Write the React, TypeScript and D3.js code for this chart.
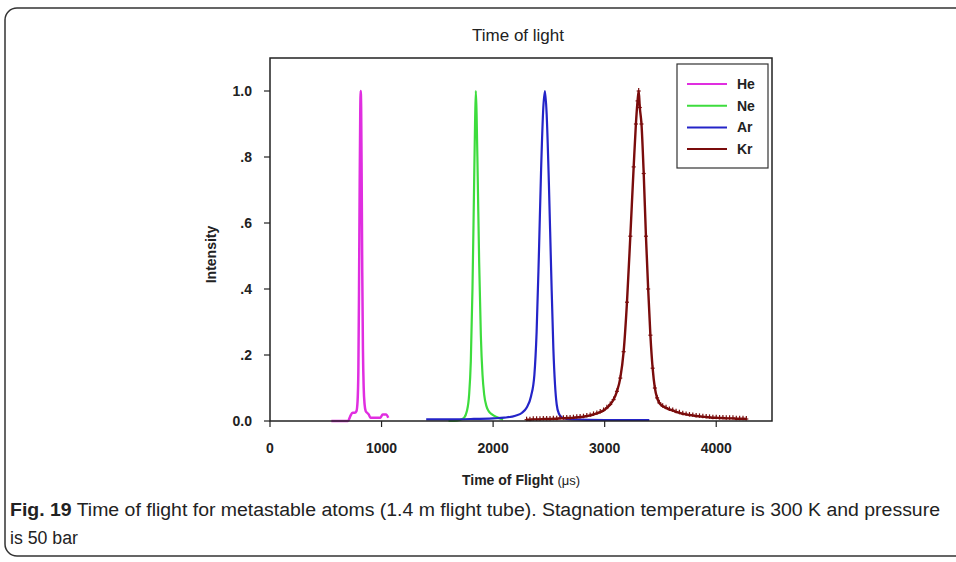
import React from "react";
import * as d3 from "d3";

const title = "Time of light";
const xTicks = [0, 1000, 2000, 3000, 4000];
const yTicks = [0, 0.2, 0.4, 0.6, 0.8, 1.0];
const yTickLabels = ["0.0", ".2", ".4", ".6", ".8", "1.0"];

const seriesNames = ["He", "Ne", "Ar", "Kr"];
const seriesColors = ["#e02ee0", "#3ddc3d", "#2424c8", "#7a0c0c"];

const heT = [550, 700, 720, 740, 760, 775, 785, 792, 798, 804, 809, 813, 817, 822, 827, 833, 840, 848, 858, 870, 885, 900, 950, 990, 1010, 1040, 1060];
const heI = [0, 0, 0.015, 0.025, 0.025, 0.03, 0.06, 0.15, 0.4, 0.72, 0.93, 1.0, 0.95, 0.72, 0.45, 0.22, 0.1, 0.05, 0.03, 0.025, 0.02, 0.01, 0.01, 0.01, 0.02, 0.02, 0.01];

const neT = [1600, 1650, 1700, 1740, 1765, 1785, 1800, 1815, 1828, 1838, 1845, 1852, 1862, 1875, 1890, 1905, 1920, 1940, 1960, 1990, 2030, 2060, 2090];
const neI = [0, 0, 0.003, 0.01, 0.03, 0.08, 0.18, 0.4, 0.68, 0.9, 1.0, 0.93, 0.74, 0.48, 0.26, 0.14, 0.08, 0.045, 0.03, 0.02, 0.012, 0.008, 0.005];

const arT = [1400, 1600, 1800, 2000, 2100, 2200, 2260, 2300, 2340, 2370, 2390, 2410, 2430, 2450, 2465, 2480, 2500, 2520, 2540, 2555, 2570, 2590, 2620, 2700, 3000, 3400];
const arI = [0.005, 0.005, 0.006, 0.008, 0.01, 0.016, 0.025, 0.04, 0.075, 0.14, 0.27, 0.5, 0.76, 0.95, 1.0, 0.93, 0.72, 0.46, 0.22, 0.11, 0.05, 0.022, 0.01, 0.005, 0.003, 0.003];

const krT = [2300, 2330, 2360, 2390, 2420, 2450, 2480, 2510, 2540, 2570, 2600, 2630, 2660, 2690, 2720, 2750, 2780, 2810, 2840, 2870, 2900, 2930, 2960, 2990, 3020, 3050, 3080, 3110, 3140, 3170, 3200, 3230, 3260, 3280, 3295, 3305, 3315, 3330, 3350, 3370, 3390, 3410, 3430, 3450, 3470, 3490, 3520, 3550, 3580, 3610, 3640, 3670, 3700, 3730, 3760, 3790, 3820, 3850, 3880, 3910, 3940, 3970, 4000, 4030, 4060, 4090, 4120, 4150, 4180, 4210, 4240, 4270];
const krI = [0.004, 0.004, 0.005, 0.005, 0.005, 0.006, 0.006, 0.006, 0.007, 0.007, 0.008, 0.008, 0.009, 0.009, 0.01, 0.011, 0.012, 0.013, 0.015, 0.017, 0.02, 0.023, 0.027, 0.032, 0.04, 0.05, 0.065, 0.09, 0.13, 0.21, 0.36, 0.56, 0.77, 0.9, 0.97, 1.0, 0.95, 0.9, 0.75, 0.56, 0.4, 0.26, 0.16, 0.1, 0.07, 0.055, 0.045, 0.04, 0.035, 0.032, 0.028, 0.025, 0.022, 0.02, 0.018, 0.017, 0.015, 0.014, 0.013, 0.012, 0.011, 0.01, 0.01, 0.009, 0.009, 0.008, 0.008, 0.008, 0.007, 0.007, 0.007, 0.006];

const seriesT = [heT, neT, arT, krT];
const seriesI = [heI, neI, arI, krI];

const W = 956;
const H = 562;
const PL = 270, PR = 772, PT = 58, PB = 421;

export default function App() {
  const x = d3.scaleLinear().domain([0, 4500]).range([PL, PR]);
  const y = d3.scaleLinear().domain([0, 1.1]).range([PB, PT]);
  const line = d3
    .line<[number, number]>()
    .x((d) => x(d[0]))
    .y((d) => y(d[1]))
    .curve(d3.curveMonotoneX);

  const axisFont = "'Liberation Sans', Arial, sans-serif";
  const capFont = "'Liberation Sans Narrow', 'Arial Narrow', 'Liberation Sans', sans-serif";
  const krPts: [number, number][] = krT.map((t, i) => [t, krI[i]]);

  return (
    <svg
      width={W}
      height={H}
      viewBox={`0 0 ${W} ${H}`}
      style={{ position: "absolute", left: 0, top: 0, background: "#fff" }}
    >
      <rect x={0} y={0} width={W} height={H} fill="#fff" />
      <rect x={5} y={8} width={W + 20} height={548} rx={12} ry={12} fill="none" stroke="#333" strokeWidth={1.5} />

      <text x={518} y={41} textAnchor="middle" fontFamily={axisFont} fontSize={17} fill="#222">
        {title}
      </text>

      {seriesT.map((ts, si) => {
        const pts: [number, number][] = ts.map((t, i) => [t, seriesI[si][i]]);
        return (
          <path
            key={si}
            d={line(pts) || ""}
            fill="none"
            stroke={seriesColors[si]}
            strokeWidth={si === 0 ? 2.5 : si === 3 ? 2.4 : 2.2}
            strokeLinejoin="round"
          />
        );
      })}
      {krPts.map((p, i) => (
        <g key={"m" + i} stroke={seriesColors[3]} strokeWidth={1.2}>
          <line x1={x(p[0]) - 2} x2={x(p[0]) + 2} y1={y(p[1])} y2={y(p[1])} />
          <line x1={x(p[0])} x2={x(p[0])} y1={y(p[1]) - 3} y2={y(p[1]) + 1.5} />
        </g>
      ))}

      <rect x={PL} y={PT} width={PR - PL} height={PB - PT} fill="none" stroke="#222" strokeWidth={1.5} />

      {yTicks.map((t, i) => (
        <g key={"y" + i}>
          <line x1={PL - 6} x2={PL} y1={y(t)} y2={y(t)} stroke="#222" strokeWidth={1.2} />
          <text
            x={PL - 18}
            y={y(t)}
            dy="0.35em"
            textAnchor="end"
            fontFamily={axisFont}
            fontWeight="bold"
            fontSize={14}
            fill="#222"
          >
            {yTickLabels[i]}
          </text>
        </g>
      ))}
      {xTicks.map((t, i) => (
        <g key={"x" + i}>
          <line x1={x(t)} x2={x(t)} y1={PB} y2={PB + 6} stroke="#222" strokeWidth={1.2} />
          <text
            x={x(t)}
            y={PB + 27}
            dy="0.35em"
            textAnchor="middle"
            fontFamily={axisFont}
            fontWeight="bold"
            fontSize={14}
            fill="#222"
          >
            {t}
          </text>
        </g>
      ))}

      <text
        transform={`translate(${211},${(PT + PB) / 2 + 15}) rotate(-90)`}
        textAnchor="middle"
        dy="0.35em"
        fontFamily={axisFont}
        fontWeight="bold"
        fontSize={14}
        fill="#222"
      >
        Intensity
      </text>
      <text x={(PL + PR) / 2} y={480} dy="0.35em" textAnchor="middle" fontFamily={axisFont} fontSize={14} fill="#222">
        <tspan fontWeight="bold">Time of Flight </tspan>
        <tspan fontSize={13}>(μs)</tspan>
      </text>

      <rect x={677} y={64} width={91} height={104} fill="#fff" stroke="#333" strokeWidth={1.2} />
      {seriesNames.map((n, i) => (
        <g key={"l" + i}>
          <line x1={687} x2={727} y1={84 + i * 21.7} y2={84 + i * 21.7} stroke={seriesColors[i]} strokeWidth={2} />
          <text
            x={737}
            y={84 + i * 21.7}
            dy="0.35em"
            fontFamily={axisFont}
            fontWeight="bold"
            fontSize={14}
            fill="#222"
          >
            {n}
          </text>
        </g>
      ))}

      <text
        x={10}
        y={516}
        fontFamily={capFont}
        fontSize={18}
        fill="#222"
        textLength={930}
        lengthAdjust="spacingAndGlyphs"
      >
        <tspan fontWeight="bold">Fig. 19</tspan>
        <tspan> Time of flight for metastable atoms (1.4 m flight tube). Stagnation temperature is 300 K and pressure</tspan>
      </text>
      <text
        x={10}
        y={544}
        fontFamily={capFont}
        fontSize={18}
        fill="#222"
        textLength={68}
        lengthAdjust="spacingAndGlyphs"
      >
        is 50 bar
      </text>
    </svg>
  );
}
